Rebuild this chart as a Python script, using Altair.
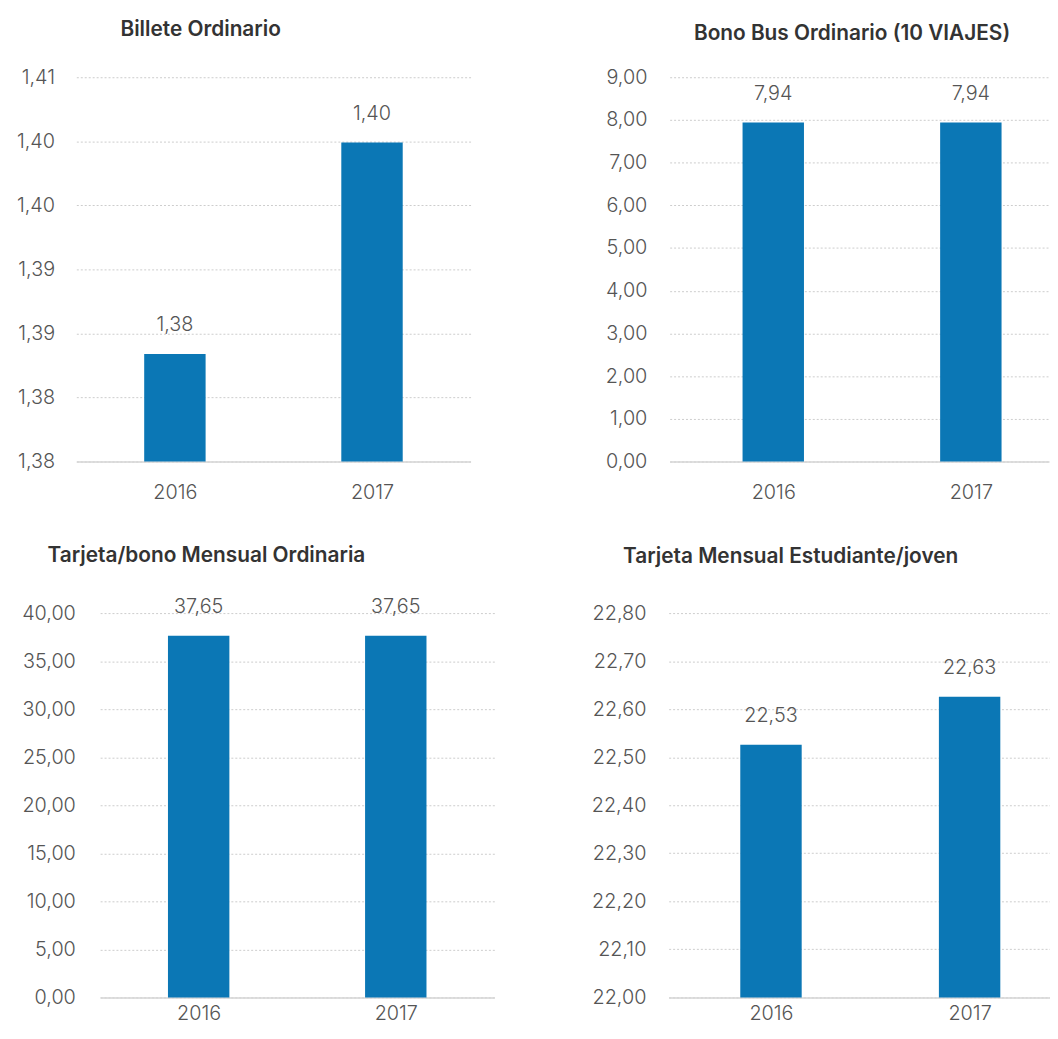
import altair as alt
import pandas as pd

years = ["2016", "2017"]

titles = [
    "Billete Ordinario",
    "Bono Bus Ordinario (10 VIAJES)",
    "Tarjeta/bono Mensual Ordinaria",
    "Tarjeta Mensual Estudiante/joven",
]

billete = [1.3834, 1.3999]
bono_bus = [7.94, 7.94]
tarjeta_mensual = [37.65, 37.65]
tarjeta_joven = [22.526, 22.626]

ticks_billete = [1.375, 1.380, 1.385, 1.390, 1.395, 1.400, 1.405]
ticks_bono = [0, 1, 2, 3, 4, 5, 6, 7, 8, 9]
ticks_mensual = [0, 5, 10, 15, 20, 25, 30, 35, 40]
ticks_joven = [22.0, 22.1, 22.2, 22.3, 22.4, 22.5, 22.6, 22.7, 22.8]

FONT = "Inter"
BAR = "#0b77b5"
TXT = "#555555"
FMT = "replace(format(datum.value + 1e-9, '.2f'), '.', ',')"


def panel(title, values, ticks, width, pad, align, extent, lpad, tdx, toff, xpad):
    df = pd.DataFrame({"year": years, "value": values})
    lo, hi = ticks[0], ticks[-1]
    base = alt.Chart(df).properties(
        width=width,
        height=388,
        title=alt.TitleParams(
            title, anchor="start", frame="group", dx=tdx, offset=toff,
            fontSize=21, font=FONT, fontWeight=600, color="#333333",
        ),
    )
    x = alt.X(
        "year:N",
        scale=alt.Scale(type="point", padding=pad, align=align),
        axis=alt.Axis(
            title=None, labelAngle=0, ticks=False, domain=True,
            domainColor="#d4d4d4", domainWidth=1.5, labelPadding=xpad,
            labelFontSize=20, labelFont=FONT, labelFontWeight=300,
            labelColor=TXT, grid=False,
        ),
    )
    y = alt.Y(
        "value:Q",
        scale=alt.Scale(domain=[lo, hi], zero=False, nice=False),
        axis=alt.Axis(
            title=None, values=ticks, labelExpr=FMT, domain=False, ticks=False,
            grid=True, gridDash=[2, 2], gridColor="#cccccc",
            labelPadding=lpad, labelFontSize=20, labelFont=FONT,
            labelFontWeight=300, labelColor=TXT,
            minExtent=extent, maxExtent=extent,
        ),
    )
    bars = base.mark_bar(size=62, color=BAR).encode(x=x, y=y, y2=alt.datum(lo))
    text = base.transform_calculate(
        lbl="replace(format(datum.value + 1e-9, '.2f'), '.', ',')"
    ).mark_text(
        baseline="alphabetic", dy=-23, fontSize=20, font=FONT,
        fontWeight=300, color=TXT,
    ).encode(x=x, y=y, text="lbl:N")
    return bars + text


def spacer():
    return alt.Chart(pd.DataFrame({"s": [0]})).mark_point(
        opacity=0, size=0
    ).encode(x=alt.value(0), y=alt.value(0)).properties(width=1, height=1)


p1 = panel(titles[0], billete, ticks_billete, 398, 0.5, 0.5, 68, 22, 44.5, 28, 21)
p2 = panel(titles[1], bono_bus, ticks_bono, 383, 0.46, 0.57, 80, 23, 24.5, 23.5, 21)
p3 = panel(titles[2], tarjeta_mensual, ticks_mensual, 398, 0.5, 0.5, 92, 25, -53, 31.5, 6)
p4 = panel(titles[3], tarjeta_joven, ticks_joven, 385, 0.46, 0.56, 85, 23, -46, 36.5, 6)

row1 = alt.hconcat(spacer(), alt.hconcat(p1, p2, spacing=121), spacing=0)
row2 = alt.hconcat(spacer(), alt.hconcat(p3, p4, spacing=91), spacing=0)

chart = alt.vconcat(row1, row2, spacing=43).properties(
    padding={"left": 0, "top": 6, "right": 0, "bottom": 0},
    background="white",
).configure_view(stroke=None)

chart.save("out.html", embed_options={"renderer": "svg", "actions": False})
